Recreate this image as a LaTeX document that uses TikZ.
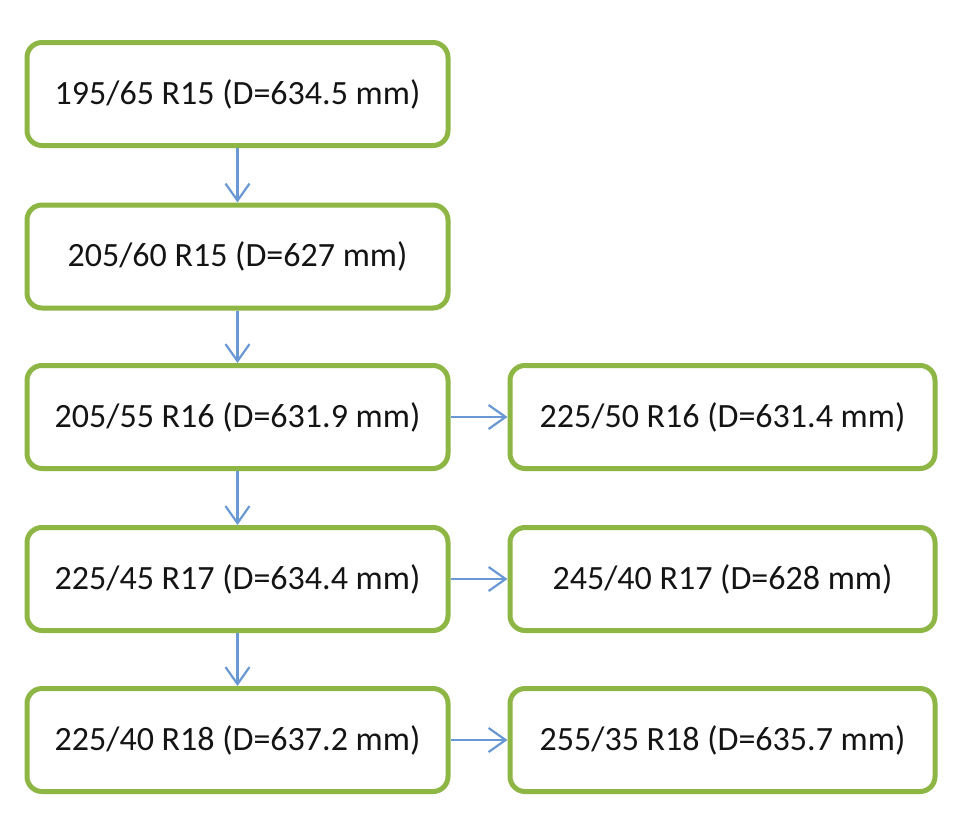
\documentclass[tikz,border=0pt]{standalone}
\usepackage{fontspec}
\setmainfont{Carlito}
\usetikzlibrary{arrows.meta}
\definecolor{boxgreen}{HTML}{8DB645}
\definecolor{arrowblue}{HTML}{6A98D4}
\definecolor{txt}{HTML}{141414}
\begin{document}
\begin{tikzpicture}[x=1pt,y=-1pt,
  tyre/.style={draw=boxgreen, line width=5pt, rounded corners=15pt, fill=white,
    minimum height=103pt, inner sep=0pt, text=txt,
    font=\fontsize{34}{39}\selectfont},
  lbox/.style={tyre, minimum width=421pt},
  rbox/.style={tyre, minimum width=425pt},
  conn/.style={draw=arrowblue, line width=2.4pt,
    -{Straight Barb[length=17pt,width=24pt,line width=2.2pt]}}]
\useasboundingbox[fill=white] (0,0) rectangle (960,822);
\node[lbox] (a) at (237.5,94) {195/65 R15 (D=634.5 mm)};
\node[lbox] (b) at (237.5,256.5) {205/60 R15 (D=627 mm)};
\node[lbox] (c) at (237.5,417) {205/55 R16 (D=631.9 mm)};
\node[lbox] (d) at (237.5,579) {225/45 R17 (D=634.4 mm)};
\node[lbox] (e) at (237.5,740) {225/40 R18 (D=637.2 mm)};
\node[rbox] (f) at (722.5,417) {225/50 R16 (D=631.4 mm)};
\node[rbox] (g) at (722.5,579) {245/40 R17 (D=628 mm)};
\node[rbox] (h) at (722.5,740) {255/35 R18 (D=635.7 mm)};
\draw[conn] (a.south) -- (b.north);
\draw[conn] (b.south) -- (c.north);
\draw[conn] (c.south) -- (d.north);
\draw[conn] (d.south) -- (e.north);
\draw[conn] (c.east) -- (f.west);
\draw[conn] (d.east) -- (g.west);
\draw[conn] (e.east) -- (h.west);
\end{tikzpicture}
\end{document}
